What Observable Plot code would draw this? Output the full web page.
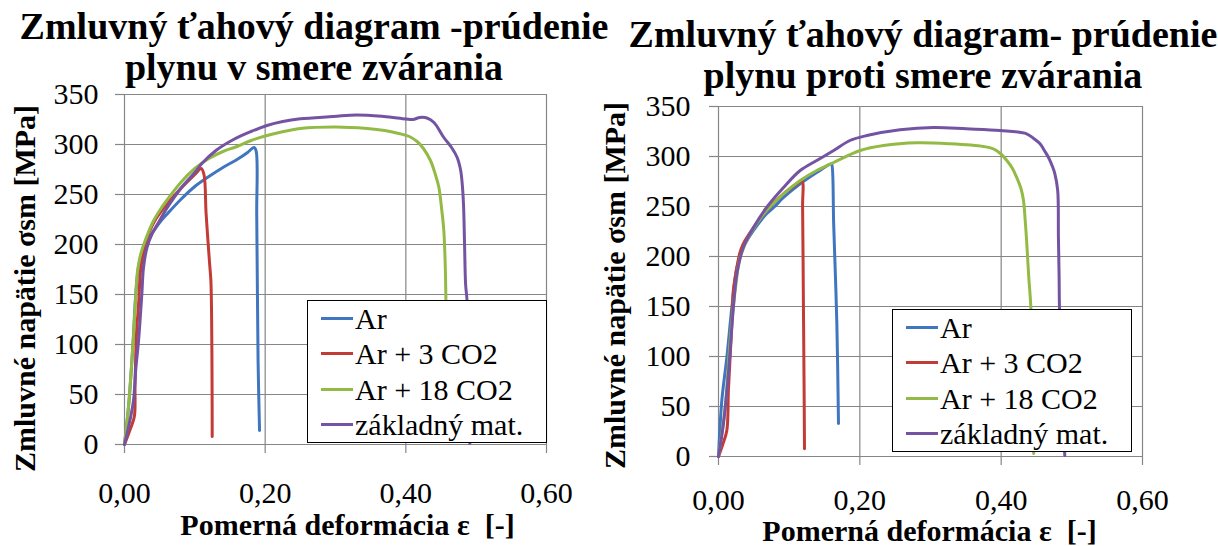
<!DOCTYPE html>
<html>
<head>
<meta charset="utf-8">
<script src="https://cdn.jsdelivr.net/npm/d3@7"></script>
<script src="https://cdn.jsdelivr.net/npm/@observablehq/plot@0.6"></script>
<style>
  html, body { margin: 0; padding: 0; background: white; }
  #root { position: relative; width: 1218px; height: 546px; overflow: hidden; background: white; color: black;
          font-family: 'Liberation Serif', Tinos, 'Times New Roman', serif; }
  .chart { position: absolute; top: 0; }
  .title { position: absolute; width: 800px; text-align: center; font-weight: bold; font-size: 38px; line-height: 41px; white-space: nowrap; z-index: 2; }
  .legend { position: absolute; box-sizing: border-box; border: 1.5px solid black; background: white; z-index: 3; }
  .legend .row { display: flex; align-items: center; height: 35.3px; font-size: 30px; line-height: 35px; white-space: nowrap; }
  .legend .swatch { width: 32px; height: 3px; margin-left: 13px; margin-right: 2px; }
</style>
</head>
<body>
<div id="root">
  <div class="title" id="tL" style="left:-86px;top:5.6px"></div>
  <div class="title" id="tR" style="left:523px;top:13.6px"></div>
</div>
<script>
// ---------- data ----------
const seriesNames = ["Ar", "Ar + 3 CO2", "Ar + 18 CO2", "základný mat."];
const seriesColors = ["#3F76BF", "#C23B36", "#93BA45", "#7453A2"];

const xTicks = [0, 0.2, 0.4, 0.6];
const xTickLabels = ["0,00", "0,20", "0,40", "0,60"];
const yTicks = [0, 50, 100, 150, 200, 250, 300, 350];

const titleLeft = ["Zmluvný ťahový diagram -prúdenie", "plynu v smere zvárania"];
const titleRight = ["Zmluvný ťahový diagram- prúdenie", "plynu proti smere zvárania"];
const yLabel = "Zmluvné napätie σsm [MPa]";
const xLabel = "Pomerná deformácia ε  [-]";

// left chart: gas flow in welding direction  [strain, stress]
const leftAr = [[0,0],[0.006,40],[0.012,100],[0.016,150],[0.02,178],[0.025,193],[0.03,202],[0.04,212],[0.05,222],[0.06,230],[0.08,245],[0.10,258],[0.12,268],[0.14,277],[0.16,285],[0.175,292],[0.184,297],[0.187,294],[0.188,230],[0.189,150],[0.19,80],[0.192,14]];
const leftAr3 = [[0,0],[0.008,15],[0.014,28],[0.015,60],[0.017,110],[0.02,140],[0.023,175],[0.027,192],[0.035,212],[0.045,226],[0.06,240],[0.08,256],[0.10,270],[0.109,276],[0.113,270],[0.116,231],[0.121,181],[0.1228,164],[0.1238,131],[0.1245,60],[0.1247,8]];
const leftAr18 = [[0,0],[0.006,40],[0.011,90],[0.013,111],[0.016,150],[0.018,170],[0.021,184],[0.025,195],[0.03,205],[0.04,222],[0.05,234],[0.06,244],[0.08,262],[0.10,276],[0.12,286],[0.14,293],[0.16,298],[0.18,304],[0.2,308.5],[0.22,312],[0.25,316],[0.3,317.5],[0.345,316],[0.37,314],[0.39,311],[0.405,308],[0.416,303],[0.425,296],[0.435,284],[0.442,270],[0.447,257],[0.451,235],[0.454,214],[0.456,180],[0.457,144],[0.458,80],[0.459,5]];
const leftBase = [[0,0],[0.008,25],[0.0128,44],[0.016,75],[0.02,104],[0.0247,151],[0.027,177],[0.032,197],[0.04,212],[0.05,224],[0.06,236],[0.08,256],[0.10,272],[0.11,281],[0.13,294],[0.155,305],[0.18,313],[0.2025,319],[0.225,323],[0.25,325.7],[0.297,328],[0.33,329.6],[0.3685,328],[0.40,325.5],[0.41,325],[0.42,327],[0.43,326.5],[0.44,322],[0.454,307],[0.465,297],[0.473,287],[0.478,274],[0.48,262],[0.482,240],[0.4835,200],[0.485,160],[0.487,144],[0.489,60],[0.491,1]];

// right chart: gas flow against welding direction
const rightAr = [[0,0],[0.0047,56],[0.0118,99],[0.0189,149],[0.026,189],[0.035,209],[0.0495,226],[0.068,242.7],[0.078,249],[0.092,259],[0.1156,272.7],[0.139,284],[0.1594,292.7],[0.1604,292],[0.163,232],[0.1675,132],[0.1698,33]];
const rightAr3 = [[0,0],[0.006,12],[0.0118,26],[0.014,66],[0.0165,100],[0.0189,133],[0.021,166],[0.0236,179],[0.03,203],[0.035,212.7],[0.0495,229],[0.068,246],[0.092,262.7],[0.11,272],[0.118,275.5],[0.119,250],[0.12,166],[0.121,80],[0.1217,7.7]];
const rightAr18 = [[0,0],[0.0094,49],[0.0165,116],[0.0236,166],[0.0307,199],[0.0448,222.7],[0.068,246],[0.092,262.7],[0.1156,276],[0.139,286],[0.163,294],[0.2005,306],[0.2335,311],[0.2807,313.7],[0.328,312.7],[0.375,310],[0.389,307.7],[0.399,303],[0.408,296],[0.416,288],[0.422,279],[0.428,268],[0.4316,256],[0.434,236],[0.436,216],[0.439,180],[0.442,149],[0.444,80],[0.446,3]];
const rightBase = [[0,0],[0.007,32.7],[0.014,82.7],[0.021,149],[0.026,182.7],[0.035,209],[0.0495,229],[0.068,249],[0.092,269],[0.1156,286],[0.139,296],[0.163,306],[0.186,316],[0.21,321],[0.257,326.7],[0.304,329],[0.351,327.7],[0.3986,326],[0.436,322.7],[0.446,318],[0.455,312.7],[0.462,305],[0.467,299],[0.472,291],[0.476,282.7],[0.48,266],[0.481,220],[0.482,180],[0.4825,149],[0.486,80],[0.49,1]];

// ---------- drawing ----------
const FONT = "'Liberation Serif', Tinos, 'Times New Roman', serif";
const GRID = "#868686";
const root = document.getElementById("root");

document.getElementById("tL").innerHTML = titleLeft.join("<br>");
document.getElementById("tR").innerHTML = titleRight.join("<br>");

function makeChart(cfg) {
  const seriesData = cfg.series.map(s => s.map(([eps, sigma]) => ({eps, sigma})));
  const plot = Plot.plot({
    width: cfg.width, height: 546,
    marginLeft: cfg.ml, marginRight: cfg.mr, marginTop: cfg.mt, marginBottom: cfg.mb,
    style: {background: "transparent", color: "black", overflow: "visible", fontFamily: FONT},
    x: {domain: [0, 0.6], label: null},
    y: {domain: [0, 350], label: null},
    marks: [
      Plot.gridX(xTicks, {stroke: GRID, strokeOpacity: 1, strokeWidth: 1.2}),
      Plot.gridY(yTicks, {stroke: GRID, strokeOpacity: 1, strokeWidth: 1.2}),
      Plot.axisX(xTicks, {tickSize: 9, tickPadding: cfg.xPad, fontSize: 30, fontFamily: FONT, stroke: GRID, strokeWidth: 1.2, fill: "black",
                          tickFormat: d => xTickLabels[xTicks.indexOf(d)], label: null}),
      Plot.axisY(yTicks, {tickSize: 9, tickPadding: cfg.yPad, fontSize: 30, fontFamily: FONT, stroke: GRID, strokeWidth: 1.2, fill: "black", label: null}),
      ...seriesData.map((d, i) => Plot.line(d, {x: "eps", y: "sigma", stroke: seriesColors[i], strokeWidth: 3, curve: "catmull-rom"})),
      Plot.text([yLabel], {text: d => d, frameAnchor: "left", textAnchor: "middle", lineAnchor: "middle", rotate: -90,
                           dx: cfg.ylDx, dy: cfg.ylDy, fontSize: 30, fontFamily: FONT, fontWeight: "bold", fill: "black"}),
      Plot.text([xLabel], {text: d => d, frameAnchor: "bottom", textAnchor: "middle", lineAnchor: "middle",
                           dx: cfg.xlDx, dy: cfg.xlDy, fontSize: 30, fontFamily: FONT, fontWeight: "bold", fill: "black"})
    ]
  });
  plot.classList.add("chart");
  plot.style.left = cfg.left + "px";
  root.insertBefore(plot, root.firstChild);

  const lg = document.createElement("div");
  lg.className = "legend";
  Object.assign(lg.style, {left: cfg.lg[0] + "px", top: cfg.lg[1] + "px", width: cfg.lg[2] + "px", height: cfg.lg[3] + "px"});
  lg.innerHTML = seriesNames.map((n, i) =>
    `<div class="row"><span class="swatch" style="background:${seriesColors[i]}"></span><span>${n}</span></div>`).join("");
  root.appendChild(lg);
}

makeChart({
  series: [leftAr, leftAr3, leftAr18, leftBase],
  left: 0, width: 596, ml: 124, mr: 50, mt: 94, mb: 102,
  xPad: 27.7, yPad: 17, ylDx: -99, ylDy: 19, xlDx: 12, xlDy: 81,
  lg: [307, 300, 240, 143]
});
makeChart({
  series: [rightAr, rightAr3, rightAr18, rightBase],
  left: 596, width: 622, ml: 122, mr: 76, mt: 106, mb: 90,
  xPad: 22.7, yPad: 19, ylDx: -103, ylDy: 4, xlDx: -1, xlDy: 75,
  lg: [892, 309, 240, 143]
});
</script>
</body>
</html>
